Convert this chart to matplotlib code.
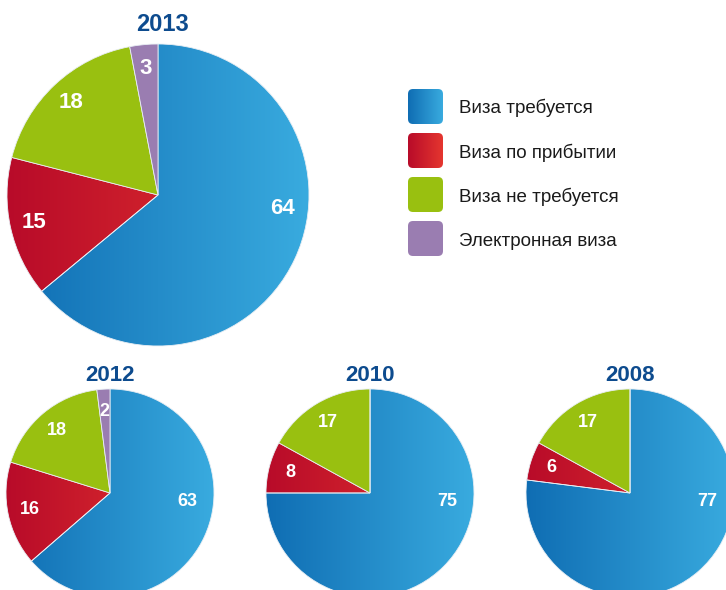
import numpy as np
import matplotlib
matplotlib.use("Agg")
import matplotlib.pyplot as plt
from matplotlib.colors import LinearSegmentedColormap
from matplotlib.patches import FancyBboxPatch

# data
categories = ["Виза требуется", "Виза по прибытии", "Виза не требуется", "Электронная виза"]
years = ["2013", "2012", "2010", "2008"]
v2013 = [64, 15, 18, 3]
v2012 = [63, 16, 18, 2]
v2010 = [75, 8, 17, 0]
v2008 = [77, 6, 17, 0]
series = [v2013, v2012, v2010, v2008]

# style
W, H = 726, 590
grad_colors = [("#0f6db3", "#39abdf"), ("#b80b29", "#e5362f"), None, None]
flat_colors = ["#2590cc", "#d0202c", "#99c010", "#9a7db1"]
title_color = "#0d4b8e"
fam = ["Liberation Sans", "DejaVu Sans"]

fig = plt.figure(figsize=(W / 100, H / 100), dpi=100)
fig.patch.set_facecolor("white")

# pie placement in pixels: (cx, cy, r)
places = [(158, 195, 151), (110, 493, 104), (370, 493, 104), (630, 493, 104)]
grad = np.linspace(0, 1, 256).reshape(1, -1)


def draw_pie(vals, year, cx, cy, r, big):
    ax = fig.add_axes([(cx - r) / W, (H - cy - r) / H, 2 * r / W, 2 * r / H])
    ax.set_axis_off()
    wedges, _ = ax.pie(vals, colors=flat_colors, startangle=90, counterclock=False,
                       radius=1, wedgeprops=dict(linewidth=0.6, edgecolor="#e8eef4"))
    for i, w in enumerate(wedges):
        if grad_colors[i] is not None and vals[i] > 0:
            cmap = LinearSegmentedColormap.from_list("g%d" % i, grad_colors[i])
            im = ax.imshow(grad, extent=[-1, 1, -1, 1], cmap=cmap, aspect="auto", zorder=0.5)
            im.set_clip_path(w)
            w.set_facecolor("none")
    if big:
        fs = 16
        d_blue, d_other = 0.83, 0.84
    else:
        fs = 13
        d_blue, d_other = 0.75, 0.79
    for i, w in enumerate(wedges):
        if vals[i] <= 0:
            continue
        if i == 0:
            ang = -6
            d = d_blue
        else:
            ang = (w.theta1 + w.theta2) / 2
            d = d_other
        x = d * np.cos(np.radians(ang))
        y = d * np.sin(np.radians(ang))
        ax.text(x, y, str(vals[i]), color="white", fontsize=fs, fontweight="bold",
                family=fam, ha="center", va="center")
    ax.text(0.03 if big else 0, 1.13, year, color=title_color, fontsize=17 if big else 16,
            fontweight="bold", family=fam, ha="center", va="center", clip_on=False)
    ax.set_xlim(-1, 1)
    ax.set_ylim(-1, 1)


for k in range(4):
    cx, cy, r = places[k]
    draw_pie(series[k], years[k], cx, cy, r, k == 0)

# legend
lx0, lx1, ly0, ly1 = 400, 700, 80, 265
lax = fig.add_axes([lx0 / W, (H - ly1) / H, (lx1 - lx0) / W, (ly1 - ly0) / H])
lax.set_axis_off()
box_y = [89, 133, 177, 221]
text_y = [108, 153, 197, 242]
for i, name in enumerate(categories):
    b = FancyBboxPatch((408, box_y[i]), 35, 35, boxstyle="round,pad=0,rounding_size=5",
                       facecolor=flat_colors[i], edgecolor="none")
    lax.add_patch(b)
    if grad_colors[i] is not None:
        b.set_facecolor("none")
        cmap = LinearSegmentedColormap.from_list("lg%d" % i, grad_colors[i])
        im = lax.imshow(grad, extent=[408, 443, box_y[i] + 35, box_y[i]], cmap=cmap,
                        aspect="auto", zorder=0.5)
        im.set_clip_path(b)
    lax.text(459, text_y[i], name, fontsize=13.5, family=fam,
             color="#1a1a1a", ha="left", va="center")
lax.set_xlim(lx0, lx1)
lax.set_ylim(ly1, ly0)

fig.savefig("out.png", dpi=100)
